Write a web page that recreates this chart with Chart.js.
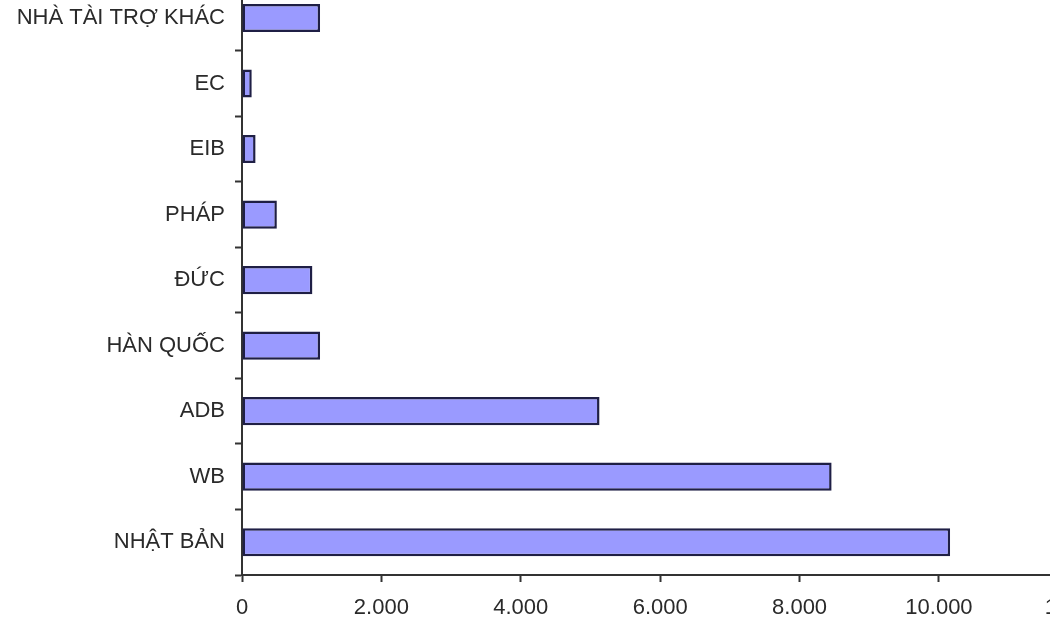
<!DOCTYPE html>
<html>
<head>
<meta charset="utf-8">
<script src="https://cdn.jsdelivr.net/npm/chart.js@4"></script>
<style>
  html, body { margin: 0; padding: 0; background: #fff; overflow: hidden; }
  #wrap { position: absolute; left: 0; top: -38px; width: 1125px; height: 668px; }
</style>
</head>
<body>
<div id="wrap"><canvas id="myChart"></canvas></div>
<script>
const donors = ["NHÀ TÀI TRỢ KHÁC", "EC", "EIB", "PHÁP", "ĐỨC", "HÀN QUỐC", "ADB", "WB", "NHẬT BẢN"];
const amounts = [1120, 140, 195, 500, 1010, 1120, 5130, 8460, 10160];
const xTicks = [0, 2000, 4000, 6000, 8000, 10000, 12000];

const fmt = (v) => String(v).replace(/\B(?=(\d{3})+(?!\d))/g, ".");

const data = {
  labels: donors,
  datasets: [
    {
      data: amounts,
      backgroundColor: "#9a9aff",
      borderColor: "#1f1f45",
      borderWidth: 2.5,
      borderSkipped: false,
      barPercentage: 0.43,
      categoryPercentage: 1,
    },
  ],
};

const config = {
  type: "bar",
  data,
  options: {
    indexAxis: "y",
    responsive: true,
    maintainAspectRatio: false,
    animation: false,
    layout: { padding: { top: 0, right: 23, left: 0, bottom: 0 } },
    plugins: { legend: { display: false }, tooltip: { enabled: false } },
    scales: {
      x: {
        min: xTicks[0],
        max: xTicks[xTicks.length - 1],
        afterBuildTicks: (scale) => {
          scale.ticks = xTicks.map((v) => ({ value: v }));
        },
        afterFit: (scale) => {
          scale.height = 55;
        },
        border: { color: "#333", width: 2 },
        grid: { drawOnChartArea: false, tickLength: 7, tickColor: "#333", tickWidth: 2 },
        ticks: {
          color: "#2a2a2a",
          font: { family: "Liberation Sans, Arial", size: 22 },
          padding: 13,
          maxRotation: 0,
          callback: (v) => fmt(v),
        },
      },
      y: {
        afterFit: (scale) => {
          scale.width = 242;
        },
        border: { color: "#333", width: 2 },
        grid: { drawOnChartArea: false, tickLength: 7, tickColor: "#333", tickWidth: 2 },
        ticks: {
          color: "#2a2a2a",
          font: { family: "Liberation Sans, Arial", size: 22 },
          padding: 10,
        },
      },
    },
  },
};

const myChart = new Chart(document.getElementById("myChart"), config);
</script>
</body>
</html>
